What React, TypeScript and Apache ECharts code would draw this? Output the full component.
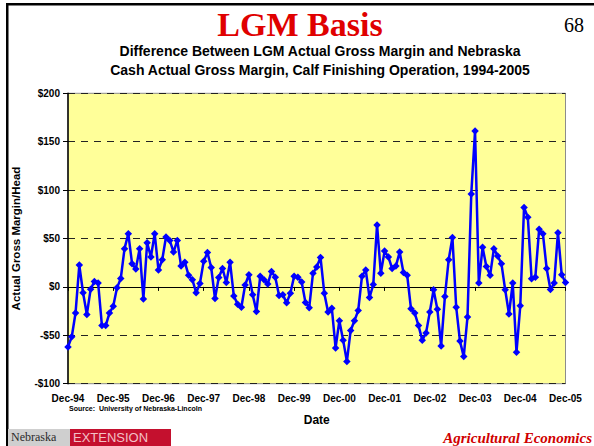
import React, { useEffect, useRef } from "react";
import * as echarts from "echarts";

const MONTHS = ["Jan", "Feb", "Mar", "Apr", "May", "Jun", "Jul", "Aug", "Sep", "Oct", "Nov", "Dec"];
const START_YEAR = 1994; // series starts Dec-94, monthly
const TICK_LABELS = ["Dec-94", "Dec-95", "Dec-96", "Dec-97", "Dec-98", "Dec-99", "Dec-00", "Dec-01", "Dec-02", "Dec-03", "Dec-04", "Dec-05"];
const Y_TICKS = [-100, -50, 0, 50, 100, 150, 200];

const grossMarginDiff = [
  -62, -51.5, -27, 22.5, -6, -28.5, -2.5, 5.5, 4, -40, -40, -27,
  -20, -1, 8.7, 39.5, 55, 24, 18.5, 39.5, -12.5, 45.5, 31, 55,
  17.5, 28, 51.5, 48, 36, 48, 21.5, 25.5, 12, 7.5, -6, 3.5,
  26.5, 35.5, 20, -12, 9.7, 19, 4.5, 25.5, -9.5, -18, -21, 2,
  12.5, -8, -25.5, 11, 7.5, 3, 16, 10, -9, -8, -16.5, -6.5,
  11, 10, 5, -16, -21.5, 14, 20.5, 30.5, -6.5, -26, -22, -63,
  -35, -55, -77, -45, -35, -24.5, 11, 17.5, -11, 2.5, 64, 14,
  37, 31, 19, 21.5, 36, 15, 12, -22.5, -27, -40, -55, -47.5,
  -26, -3, -23, -61, -10, 28, 51, -21, -56, -72, -31, 96,
  161, 4, 41, 21, 12, 39.5, 32, 24, -3, -28, 4, -67.5,
  -19.5, 82, 72, 8.5, 10, 59.5, 55, 19, -2.7, 4, 56, 12.5,
  4.5,
];

const categories = grossMarginDiff.map((_, i) => {
  const m = (11 + i) % 12;
  const y = START_YEAR + Math.floor((11 + i) / 12);
  return MONTHS[m] + "-" + String(y % 100).padStart(2, "0");
});

const SANS = "'Liberation Sans', Arial, sans-serif";
const SERIF = "'Liberation Serif', 'Times New Roman', serif";

export default function App() {
  const ref = useRef<HTMLDivElement>(null);
  useEffect(() => {
    document.body.style.margin = "0";
    if (!ref.current) return;
    const chart = echarts.init(ref.current, null, { renderer: "svg" });
    chart.setOption({
      animation: false,
      backgroundColor: "#FFFFFF",
      grid: {
        left: 68,
        right: 28.5,
        top: 93.3,
        bottom: 62.3,
        show: true,
        backgroundColor: "#FFFF99",
        borderColor: "#8C8C8C",
        borderWidth: 1,
      },
      xAxis: {
        type: "category",
        data: categories,
        boundaryGap: false,
        axisLine: { lineStyle: { color: "#000", width: 1 } },
        axisTick: {
          show: true,
          length: 4,
          interval: (idx: number) => idx % 12 === 0,
          lineStyle: { color: "#000" },
        },
        axisLabel: {
          interval: (idx: number) => idx % 12 === 0,
          formatter: (v: string) => (TICK_LABELS.includes(v) ? v : ""),
          fontFamily: SANS,
          fontWeight: "bold",
          fontSize: 10,
          color: "#000",
          margin: 10,
        },
        splitLine: { show: false },
        name: "Date",
        nameLocation: "middle",
        nameGap: 30,
        nameTextStyle: { fontFamily: SANS, fontWeight: "bold", fontSize: 12, color: "#000" },
      },
      yAxis: {
        type: "value",
        min: Y_TICKS[0],
        max: Y_TICKS[Y_TICKS.length - 1],
        interval: 50,
        axisLine: { show: true, lineStyle: { color: "#000", width: 1.5 } },
        axisTick: { show: true, length: 5, lineStyle: { color: "#000" } },
        axisLabel: {
          formatter: (v: number) => (v < 0 ? "-$" + Math.abs(v) : "$" + v),
          fontFamily: SANS,
          fontWeight: "bold",
          fontSize: 10,
          color: "#000",
          margin: 8,
        },
        splitLine: { show: true, lineStyle: { color: "#222", type: [7, 6], width: 1 } },
        name: "Actual Gross Margin/Head",
        nameLocation: "middle",
        nameGap: 46,
        nameRotate: 90,
        nameTextStyle: { fontFamily: SANS, fontWeight: "bold", fontSize: 11.5, color: "#000" },
      },
      series: [
        {
          type: "line",
          data: grossMarginDiff,
          symbol: "diamond",
          symbolSize: 7.5,
          showAllSymbol: true,
          lineStyle: { color: "#0000FF", width: 2.5 },
          itemStyle: { color: "#0000FF" },
        },
      ],
      graphic: [
        { type: "rect", shape: { x: 6, y: 3, width: 588, height: 2.5 }, style: { fill: "#000" } },
        { type: "rect", shape: { x: 6, y: 3, width: 2.5, height: 443 }, style: { fill: "#000" } },
        {
          type: "text",
          x: 300,
          y: 24,
          style: {
            text: "LGM Basis",
            font: `bold 34px ${SERIF}`,
            fill: "#E00000",
            textAlign: "center",
            textVerticalAlign: "middle",
          },
        },
        {
          type: "text",
          x: 574,
          y: 25,
          style: { text: "68", font: `20px ${SERIF}`, fill: "#000", textAlign: "center", textVerticalAlign: "middle" },
        },
        {
          type: "text",
          x: 320,
          y: 51,
          style: {
            text: "Difference Between LGM Actual Gross Margin and Nebraska",
            font: `bold 14px ${SANS}`,
            fill: "#000",
            textAlign: "center",
            textVerticalAlign: "middle",
          },
        },
        {
          type: "text",
          x: 320,
          y: 70,
          style: {
            text: "Cash Actual Gross Margin, Calf Finishing Operation, 1994-2005",
            font: `bold 14px ${SANS}`,
            fill: "#000",
            textAlign: "center",
            textVerticalAlign: "middle",
          },
        },
        {
          type: "text",
          x: 69,
          y: 408,
          style: {
            text: "Source:  University of Nebraska-Lincoln",
            font: `bold 7px ${SANS}`,
            fill: "#000",
            textAlign: "left",
            textVerticalAlign: "middle",
          },
        },
        { type: "rect", shape: { x: 8, y: 429, width: 62, height: 17 }, style: { fill: "#CFCFCF" } },
        {
          type: "text",
          x: 11,
          y: 437,
          style: { text: "Nebraska", font: `12px ${SERIF}`, fill: "#2A2A2A", textAlign: "left", textVerticalAlign: "middle" },
        },
        { type: "rect", shape: { x: 70, y: 429, width: 101, height: 17 }, style: { fill: "#C4102E" } },
        {
          type: "text",
          x: 73,
          y: 437.5,
          style: { text: "EXTENSION", font: `13px ${SANS}`, fill: "#F3C0C6", textAlign: "left", textVerticalAlign: "middle" },
        },
        {
          type: "text",
          x: 592,
          y: 437.5,
          style: {
            text: "Agricultural Economics",
            font: `italic bold 15px ${SERIF}`,
            fill: "#D00000",
            textAlign: "right",
            textVerticalAlign: "middle",
          },
        },
      ],
    });
    return () => chart.dispose();
  }, []);
  return <div ref={ref} style={{ width: 594, height: 446 }} />;
}
